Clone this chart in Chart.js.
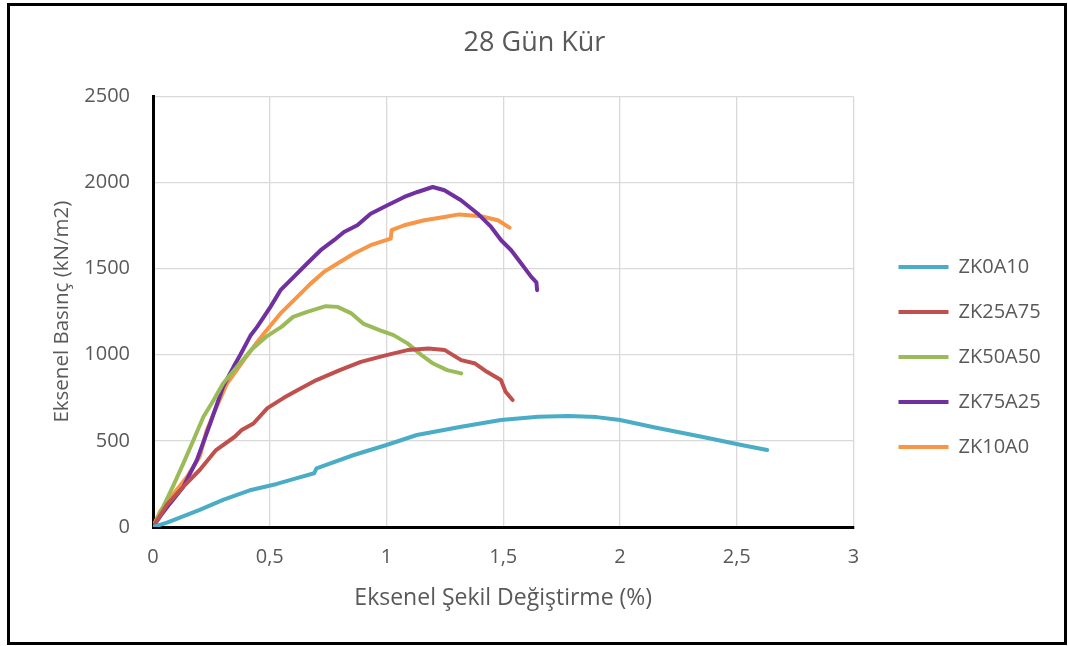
<!DOCTYPE html>
<html>
<head>
<meta charset="utf-8">
<title>28 Gün Kür</title>
<script src="https://cdn.jsdelivr.net/npm/chart.js@4.4.1/dist/chart.umd.min.js"></script>
<style>
  html, body { margin: 0; padding: 0; background: #fff; }
  #wrap { width: 1068px; height: 646px; position: relative; }
</style>
</head>
<body>
<div id="wrap"><canvas id="chart"></canvas></div>
<script>
// Series names and colours
const seriesNames = ['ZK0A10', 'ZK25A75', 'ZK50A50', 'ZK75A25', 'ZK10A0'];
const seriesColors = ['#4bacc6', '#c0504d', '#9bbb59', '#7030a0', '#f79646'];

// Strain (%) / stress (kN/m2)
const zk0a10X = [0, 0.06, 0.2, 0.3, 0.42, 0.53, 0.62, 0.69, 0.7, 0.73, 0.86, 1.0, 1.13, 1.32, 1.49, 1.65, 1.78, 1.9, 2.0, 2.15, 2.35, 2.52, 2.63];
const zk0a10Y = [0, 25, 99, 157, 215, 250, 285, 312, 340, 355, 418, 476, 534, 582, 621, 640, 645, 638, 621, 578, 524, 476, 447];

const zk25a75X = [0, 0.06, 0.13, 0.2, 0.27, 0.35, 0.38, 0.43, 0.49, 0.56, 0.62, 0.70, 0.80, 0.89, 1.0, 1.09, 1.18, 1.25, 1.32, 1.38, 1.43, 1.49, 1.51, 1.54];
const zk25a75Y = [0, 130, 234, 331, 447, 524, 563, 601, 690, 750, 795, 853, 911, 959, 998, 1027, 1036, 1027, 969, 949, 901, 853, 785, 737];

const zk50a50X = [0, 0.044, 0.087, 0.13, 0.173, 0.216, 0.26, 0.30, 0.36, 0.42, 0.49, 0.55, 0.60, 0.66, 0.74, 0.79, 0.85, 0.90, 0.97, 1.03, 1.09, 1.15, 1.2, 1.26, 1.32];
const zk50a50Y = [0, 118, 240, 369, 504, 640, 737, 833, 930, 1027, 1110, 1162, 1220, 1249, 1282, 1278, 1240, 1181, 1143, 1114, 1066, 998, 949, 911, 892];

const zk75a25X = [0, 0.03, 0.073, 0.13, 0.188, 0.245, 0.30, 0.345, 0.374, 0.417, 0.446, 0.503, 0.546, 0.603, 0.66, 0.718, 0.775, 0.818, 0.875, 0.932, 1.004, 1.076, 1.133, 1.198, 1.248, 1.319, 1.391, 1.448, 1.491, 1.534, 1.577, 1.62, 1.642, 1.645];
const zk75a25Y = [0, 60, 137, 234, 389, 601, 814, 930, 1000, 1110, 1162, 1278, 1375, 1452, 1530, 1607, 1665, 1713, 1752, 1819, 1868, 1916, 1945, 1974, 1955, 1897, 1819, 1742, 1665, 1607, 1530, 1452, 1420, 1375];

const zk10a0X = [0, 0.03, 0.087, 0.145, 0.2, 0.23, 0.26, 0.317, 0.389, 0.431, 0.475, 0.546, 0.618, 0.675, 0.732, 0.79, 0.861, 0.932, 1.018, 1.022, 1.076, 1.162, 1.248, 1.312, 1.405, 1.477, 1.527];
const zk10a0Y = [0, 90, 190, 290, 408, 560, 659, 833, 969, 1046, 1123, 1240, 1336, 1413, 1481, 1530, 1588, 1636, 1674, 1723, 1752, 1781, 1800, 1815, 1804, 1781, 1738];

const seriesX = [zk0a10X, zk25a75X, zk50a50X, zk75a25X, zk10a0X];
const seriesY = [zk0a10Y, zk25a75Y, zk50a50Y, zk75a25Y, zk10a0Y];

// Axis ranges
const xMin = 0, xMax = 3, xStep = 0.5;
const yMin = 0, yMax = 2500, yStep = 500;

const textColor = '#595959';
const fontFamily = '"Open Sans", "DejaVu Sans", sans-serif';

// Build datasets from the arrays
const datasets = seriesNames.map((name, i) => ({
    label: name,
    data: seriesX[i].map((x, j) => ({ x: x, y: seriesY[i][j] })),
    borderColor: seriesColors[i],
    backgroundColor: seriesColors[i],
    borderWidth: 4,
    borderCapStyle: 'round',
    borderJoinStyle: 'round',
    pointRadius: 0,
    tension: 0,
    fill: false
}));

// Outer frame around the whole chart
const framePlugin = {
    id: 'frame',
    afterDraw(chart) {
        const c = chart.ctx;
        c.save();
        c.strokeStyle = '#000';
        c.lineWidth = 3;
        c.strokeRect(8.5, 4.5, 1057, 639);
        c.restore();
    }
};

new Chart(document.getElementById('chart').getContext('2d'), {
    type: 'line',
    data: { datasets: datasets },
    plugins: [framePlugin],
    options: {
        responsive: true,
        maintainAspectRatio: false,
        animation: false,
        layout: { padding: { left: 26, right: 25, top: 12, bottom: 34 } },
        plugins: {
            title: {
                display: true,
                text: '28 Gün Kür',
                color: textColor,
                font: { family: fontFamily, size: 27, weight: 'normal' },
                padding: { top: 15, bottom: 37 }
            },
            legend: {
                position: 'right',
                // empty legend title only pushes the items down
                title: { display: true, text: ' ', font: { size: 10 }, padding: 39 },
                labels: {
                    color: textColor,
                    font: { family: fontFamily, size: 20 },
                    usePointStyle: true,
                    pointStyle: 'line',
                    pointStyleWidth: 50,
                    padding: 25
                }
            },
            tooltip: { enabled: false }
        },
        scales: {
            x: {
                type: 'linear',
                min: xMin,
                max: xMax,
                afterFit: s => { s.height = 85; },
                ticks: {
                    stepSize: xStep,
                    color: textColor,
                    padding: 18,
                    font: { family: fontFamily, size: 20 },
                    callback: v => String(v).replace('.', ',')
                },
                grid: { color: '#d9d9d9', lineWidth: 1.3, drawTicks: false },
                border: { color: '#000', width: 3 },
                title: {
                    display: true,
                    text: 'Eksenel Şekil Değiştirme (%)',
                    color: textColor,
                    font: { family: fontFamily, size: 23 },
                    padding: { top: 0, bottom: 0 }
                }
            },
            y: {
                type: 'linear',
                min: yMin,
                max: yMax,
                afterFit: s => { s.width = 127; },
                ticks: {
                    stepSize: yStep,
                    color: textColor,
                    padding: 23,
                    font: { family: fontFamily, size: 20 },
                    callback: v => String(v)
                },
                grid: { color: '#d9d9d9', lineWidth: 1.3, drawTicks: false },
                border: { color: '#000', width: 3 },
                title: {
                    display: true,
                    text: 'Eksenel Basınç (kN/m2)',
                    color: textColor,
                    font: { family: fontFamily, size: 20.5 },
                    padding: { top: 24, bottom: 0 }
                }
            },
            // empty spacer between the plot and the legend
            gap: {
                type: 'linear',
                position: 'right',
                display: true,
                ticks: { display: false },
                grid: { display: false, drawTicks: false },
                border: { display: false },
                afterFit: s => { s.width = 20; }
            }
        }
    }
});
</script>
</body>
</html>
